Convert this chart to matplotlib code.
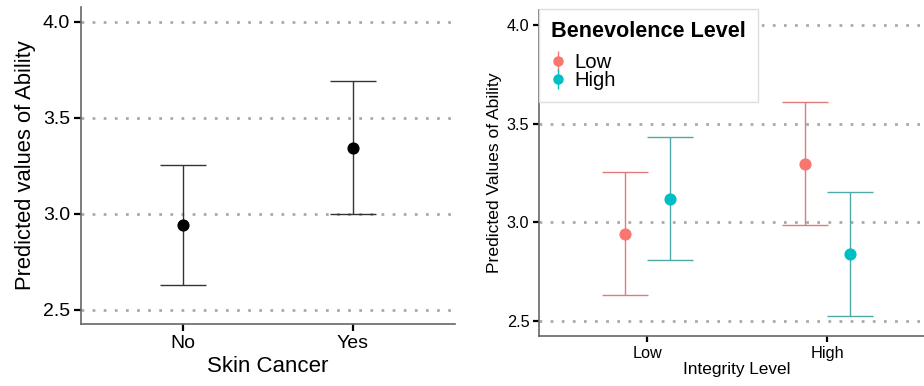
import numpy as np
import matplotlib.pyplot as plt

plt.rcParams['font.family'] = ['Liberation Sans', 'DejaVu Sans']

# skin cancer model
skin_groups = ['No', 'Yes']
skin_fit = [2.943, 3.345]
skin_low = [2.630, 3.000]
skin_high = [3.255, 3.694]

# integrity x benevolence model
integrity_groups = ['Low', 'High']
benevolence_groups = ['Low', 'High']
ben_fit = {'Low': [2.943, 3.297], 'High': [3.121, 2.840]}
ben_low = {'Low': [2.632, 2.988], 'High': [2.811, 2.528]}
ben_high = {'Low': [3.257, 3.607], 'High': [3.434, 3.152]}

point_colors = {'Low': '#F8766D', 'High': '#00BFC4'}
bar_colors = {'Low': '#E07B7B', 'High': '#4FA9A9'}
yticks = [2.5, 3.0, 3.5, 4.0]

fig = plt.figure(figsize=(9.24, 3.86), dpi=100)
ax1 = fig.add_axes([81 / 924, 1 - 324 / 386, 374 / 924, 317 / 386])
ax2 = fig.add_axes([539 / 924, 1 - 336 / 386, 396 / 924, 326 / 386])


def style_axis(ax, ylim, tick_size, tick_len):
    ax.set_xlim(0.4, 2.6)
    ax.set_ylim(*ylim)
    ax.set_yticks(yticks)
    ax.set_yticklabels(['%.1f' % t for t in yticks])
    for t in yticks:
        ax.axhline(t, color='#AAAAAA', lw=2, dashes=(1, 3), zorder=0)
    for s in ['top', 'right']:
        ax.spines[s].set_visible(False)
    for s in ['left', 'bottom']:
        ax.spines[s].set_color('#666666')
        ax.spines[s].set_linewidth(1.2)
    ax.tick_params(length=tick_len, width=1.6, color='black',
                   labelsize=tick_size, labelcolor='black', pad=3)


x = np.arange(1, len(skin_groups) + 1)
ax1.errorbar(x, skin_fit,
             yerr=[np.subtract(skin_fit, skin_low), np.subtract(skin_high, skin_fit)],
             fmt='none', ecolor='#333333', elinewidth=1, capsize=16.5, capthick=1)
ax1.scatter(x, skin_fit, s=60, color='black', zorder=3)
style_axis(ax1, (2.427, 4.078), 14, 5)
ax1.set_xticks(x)
ax1.set_xticklabels(skin_groups)
ax1.set_xlabel('Skin Cancer', fontsize=16, labelpad=3)
ax1.set_ylabel('Predicted values of Ability', fontsize=15.8, labelpad=5)

x2 = np.arange(1, len(integrity_groups) + 1)
handles = []
for ben, shift in zip(benevolence_groups, [-0.125, 0.125]):
    fit = np.array(ben_fit[ben])
    ax2.errorbar(x2 + shift, fit,
                 yerr=[fit - np.array(ben_low[ben]), np.array(ben_high[ben]) - fit],
                 fmt='none', ecolor=bar_colors[ben], elinewidth=1, capsize=16.5, capthick=1)
    ax2.scatter(x2 + shift, fit, s=60, color=point_colors[ben], zorder=3)
    h = ax2.errorbar([], [], yerr=[], fmt='o', color=point_colors[ben], ms=6.5,
                     elinewidth=1)
    handles.append(h)
style_axis(ax2, (2.426, 4.074), 11.7, 4)
ax2.set_xticks(x2)
ax2.set_xticklabels(integrity_groups)
ax2.set_xlabel('Integrity Level', fontsize=12.4, labelpad=1)
ax2.set_ylabel('Predicted Values of Ability', fontsize=12.6, labelpad=3)

leg = ax2.legend(handles, benevolence_groups, title='Benevolence Level',
                 loc='upper left', bbox_to_anchor=(0.0, 1.003), borderaxespad=0,
                 fontsize=14.6, title_fontproperties={'weight': 'bold', 'size': 15.6},
                 frameon=True, fancybox=False, borderpad=0.6, labelspacing=-0.05,
                 handlelength=0.7, handletextpad=0.45, alignment='left')
# extra room between the legend title and its entries
leg._legend_box.sep = 8
leg.get_frame().set_edgecolor('#DDDDDD')
leg.get_frame().set_linewidth(1)
leg.get_frame().set_alpha(1)

fig.savefig('out.png', dpi=100)
